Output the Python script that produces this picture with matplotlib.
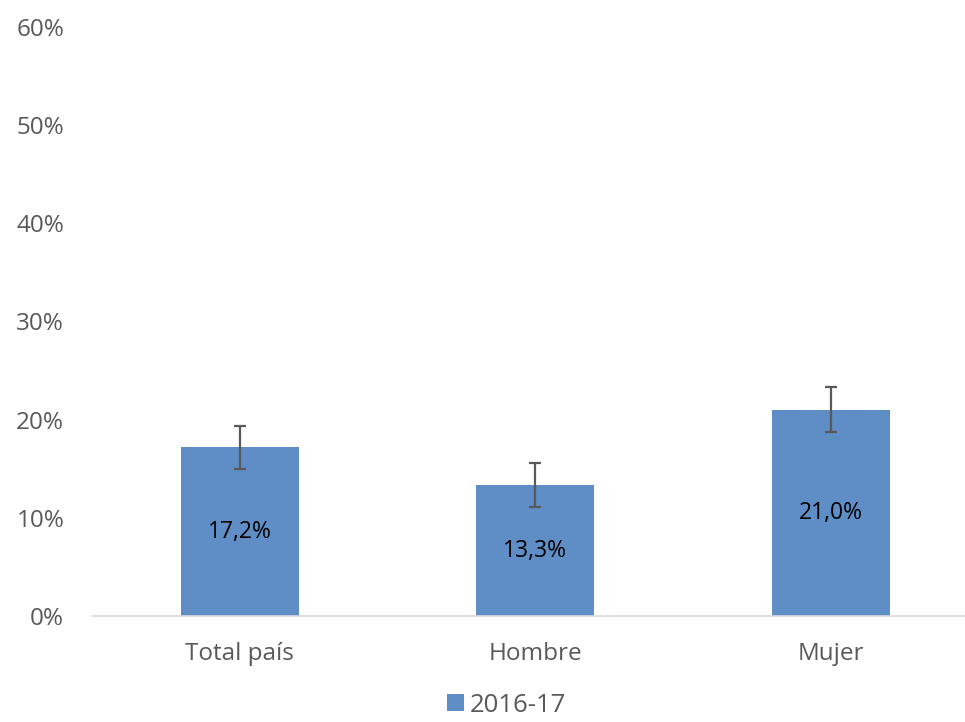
import matplotlib
matplotlib.use("Agg")
import matplotlib.pyplot as plt  # noqa: E402
from matplotlib.ticker import FuncFormatter, MultipleLocator  # noqa: E402

categories = ["Total país", "Hombre", "Mujer"]
values = [17.2, 13.3, 21.0]
err_low = [15.0, 11.1, 18.7]
err_high = [19.4, 15.6, 23.3]
series_name = "2016-17"

BAR_COLOR = "#5f8dc5"
GREY = "#595959"

plt.rcParams["font.family"] = ["Open Sans", "DejaVu Sans"]

fig = plt.figure(figsize=(9.65, 7.22), dpi=100)
ax = fig.add_axes([92 / 965, 106 / 722, 873 / 965, 589 / 722])

x = list(range(len(categories)))
yerr = [[v - lo for v, lo in zip(values, err_low)],
        [hi - v for v, hi in zip(values, err_high)]]
bars = ax.bar(x, values, width=0.4, color=BAR_COLOR, label=series_name, zorder=2)
ax.errorbar(x, values, yerr=yerr, fmt="none", ecolor=GREY, elinewidth=1.6,
            capsize=4.5, capthick=1.6, zorder=3)

for xi, v in zip(x, values):
    ax.text(xi, v / 2, f"{v:.1f}%".replace(".", ","), ha="center", va="center",
            fontsize=16.5, color="black", zorder=4)

ax.set_ylim(0, 60)
ax.set_xlim(-0.5, -0.5 + 873 / 295.5)
ax.yaxis.set_major_locator(MultipleLocator(10))
ax.yaxis.set_major_formatter(FuncFormatter(lambda v, _: f"{v:.0f}%"))
ax.set_xticks(x)
ax.set_xticklabels(categories)
ax.tick_params(axis="both", length=0, labelsize=17.5, colors=GREY)
ax.tick_params(axis="x", pad=19)
ax.tick_params(axis="y", pad=20)
for s in ("top", "right", "left"):
    ax.spines[s].set_visible(False)
ax.spines["bottom"].set_color("#d9d9d9")
ax.spines["bottom"].set_linewidth(1.2)

# legend sits slightly right of figure centre in the original
leg = fig.legend(handles=[bars], labels=[series_name], loc="lower center",
                 bbox_to_anchor=(0.525, -0.026), frameon=False, fontsize=18.5,
                 handlelength=0.65, handleheight=0.65, handletextpad=0.25)
for t in leg.get_texts():
    t.set_color(GREY)

fig.savefig("out.png", dpi=100)
